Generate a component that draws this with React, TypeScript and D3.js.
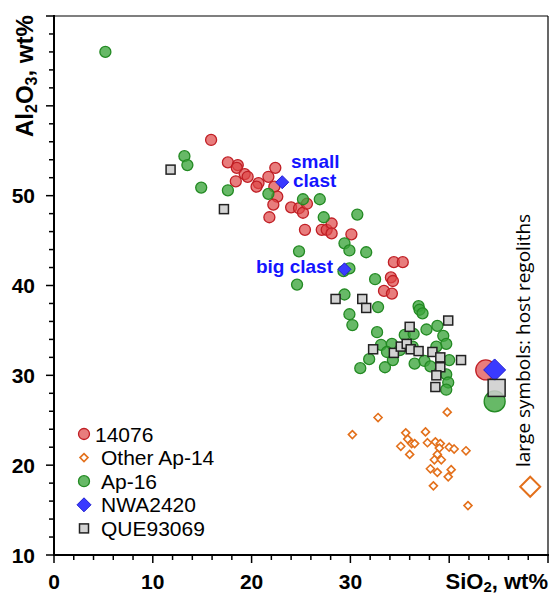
import React from "react";
import * as d3 from "d3";

// SiO2 (wt%), Al2O3 (wt%)
const s14076: [number, number][] = [
  [15.9, 56.2], [17.6, 53.7], [18.6, 53.4], [18.5, 53.1], [19.3, 52.4], [19.6, 52.1],
  [18.4, 51.6], [20.7, 51.4], [20.5, 51.0], [21.7, 52.1], [22.4, 53.1], [22.3, 51.0],
  [22.6, 49.9], [22.2, 49.0], [21.8, 47.6], [24.0, 48.7], [24.8, 48.6], [25.2, 48.1],
  [25.6, 49.1], [25.4, 46.2], [27.1, 46.2], [27.6, 46.2], [28.1, 46.9], [28.1, 45.8],
  [30.1, 45.7], [34.4, 42.6], [35.3, 42.6], [34.1, 40.9], [34.3, 40.5], [33.4, 39.4],
  [34.2, 39.1],
];

const otherAp14: [number, number][] = [
  [32.8, 25.3], [30.2, 23.4], [39.8, 25.9], [35.6, 23.6], [35.8, 22.9], [35.1, 22.1],
  [36.2, 22.4], [36.5, 22.4], [36.0, 21.2], [37.6, 23.7], [37.8, 22.5], [38.6, 22.6],
  [39.1, 22.4], [39.0, 21.9], [40.0, 22.0], [40.5, 21.8], [41.7, 21.6], [38.8, 21.2],
  [38.5, 20.6], [39.2, 20.6], [38.1, 19.6], [38.8, 19.2], [40.2, 19.5], [39.9, 18.7],
  [38.4, 17.7], [41.9, 15.5],
];

const ap16: [number, number][] = [
  [5.2, 66.0], [13.2, 54.4], [13.5, 53.4], [14.9, 50.9], [17.6, 50.6], [21.7, 50.2],
  [24.8, 43.8], [25.2, 49.6], [26.9, 49.6], [27.3, 47.6], [30.7, 47.9], [29.4, 44.7],
  [29.9, 43.9], [31.6, 43.7], [29.3, 41.6], [29.9, 41.9], [24.6, 40.1], [32.5, 40.7],
  [29.4, 39.0], [32.8, 37.6], [29.9, 36.8], [30.2, 35.6], [36.9, 37.7], [37.0, 37.3],
  [37.3, 36.9], [32.7, 34.8], [33.1, 33.4], [34.2, 33.5], [35.5, 34.5], [36.4, 34.6],
  [37.7, 35.1], [38.8, 35.5], [39.4, 34.4], [39.7, 33.5], [38.7, 33.2], [31.9, 31.8],
  [31.0, 30.8], [33.5, 30.9], [34.3, 31.7], [33.7, 32.6], [36.5, 31.3], [37.5, 31.6],
  [38.1, 31.0], [40.0, 31.7], [39.7, 30.1], [39.9, 29.2], [39.7, 28.4], [36.3, 33.2],
  [35.0, 32.8],
];

const nwa2420: [number, number][] = [[23.1, 51.5], [29.4, 41.8]];

const que93069: [number, number][] = [
  [11.8, 52.9], [17.2, 48.5], [28.5, 38.5], [31.2, 38.5], [31.6, 37.5], [36.0, 35.4],
  [39.9, 36.1], [32.3, 32.9], [34.4, 32.5], [35.1, 33.2], [35.7, 33.5], [36.1, 32.9],
  [36.9, 32.7], [38.3, 32.6], [39.1, 32.0], [39.1, 30.9], [41.2, 31.7], [38.7, 30.0],
  [38.6, 28.7],
];

// host regoliths (large symbols)
const host14076: [number, number] = [43.7, 30.6];
const hostAp14: [number, number] = [48.2, 17.6];
const hostAp16: [number, number] = [44.6, 27.1];
const hostNWA: [number, number] = [44.6, 30.6];
const hostQUE: [number, number] = [44.8, 28.6];

const xLabels = [0, 10, 20, 30];
const yLabels = [10, 20, 30, 40, 50];
const legendNames = ["14076", "Other Ap-14", "Ap-16", "NWA2420", "QUE93069"];

const RED_F = "rgba(222,70,70,0.7)", RED_S = "#c01f25";
const GRN_F = "rgba(60,165,60,0.78)", GRN_S = "#238a23";
const ORG = "#e3701b";
const BLU_F = "#3a3aff", BLU_S = "#2020d0";
const GRY_F = "#d3d3d3", GRY_S = "#222";

const diamond = (cx: number, cy: number, r: number) =>
  `M${cx},${cy - r}L${cx + r},${cy}L${cx},${cy + r}L${cx - r},${cy}Z`;

export default function App() {
  const x = d3.scaleLinear().domain([0, 50]).range([54, 548]);
  const y = d3.scaleLinear().domain([10, 70]).range([555, 16]);
  const xt = d3.range(0, 51, 2);
  const yt = d3.range(10, 71, 2);
  const font = "Liberation Sans, Arial, sans-serif";

  const circ = (d: [number, number], r: number, k: string) => (
    <circle key={k} cx={x(d[0])} cy={y(d[1])} r={r} />
  );

  const legY = (i: number) => 434 + i * 23.6;

  return (
    <svg width={558} height={595} style={{ position: "absolute", left: 0, top: 0 }} fontFamily={font}>
      <rect x={0} y={0} width={558} height={595} fill="#fff" />
      {/* frame */}
      <line x1={54} y1={16} x2={548} y2={16} stroke="#000" strokeWidth={1.2} />
      <line x1={548} y1={16} x2={548} y2={555} stroke="#000" strokeWidth={1.2} />
      <line x1={54} y1={555} x2={549} y2={555} stroke="#000" strokeWidth={2} />
      <line x1={54} y1={15} x2={54} y2={556} stroke="#000" strokeWidth={2} />
      {xt.map((t) => (
        <line key={"xt" + t} x1={x(t)} x2={x(t)} y1={555} y2={555 + (t % 10 === 0 ? 8 : 5)} stroke="#000" strokeWidth={1.5} />
      ))}
      {yt.map((t) => (
        <line key={"yt" + t} y1={y(t)} y2={y(t)} x1={54} x2={54 - (t % 10 === 0 ? 8 : 5)} stroke="#000" strokeWidth={1.5} />
      ))}
      {xLabels.map((t) => (
        <text key={"xl" + t} x={x(t)} y={589} textAnchor="middle" fontSize={21} fontWeight="bold">{t}</text>
      ))}
      {yLabels.map((t) => (
        <text key={"yl" + t} x={35} y={y(t) + 7.5} textAnchor="end" fontSize={21} fontWeight="bold">{t}</text>
      ))}
      <text x={548} y={589} textAnchor="end" fontSize={22} fontWeight="bold">
        SiO<tspan fontSize={15} dy={3}>2</tspan><tspan dy={-3}>, wt%</tspan>
      </text>
      <text transform="translate(33,137) rotate(-90)" fontSize={24} fontWeight="bold">
        Al<tspan fontSize={16} dy={4}>2</tspan><tspan dy={-4}>O</tspan><tspan fontSize={16} dy={4}>3</tspan><tspan dy={-4}>, wt%</tspan>
      </text>

      {/* data */}
      <g fill={RED_F} stroke={RED_S} strokeWidth={1.3}>
        {s14076.map((d, i) => circ(d, 5.5, "r" + i))}
      </g>
      <g fill="#fff" stroke={ORG} strokeWidth={1.6}>
        {otherAp14.map((d, i) => <path key={"o" + i} d={diamond(x(d[0]), y(d[1]), 4)} />)}
      </g>
      <g fill={GRN_F} stroke={GRN_S} strokeWidth={1.3}>
        {ap16.map((d, i) => circ(d, 5.5, "g" + i))}
      </g>
      <g fill={BLU_F} stroke={BLU_S} strokeWidth={1}>
        {nwa2420.map((d, i) => <path key={"b" + i} d={diamond(x(d[0]), y(d[1]), 6.5)} />)}
      </g>
      <g fill={GRY_F} stroke={GRY_S} strokeWidth={1.5}>
        {que93069.map((d, i) => <rect key={"q" + i} x={x(d[0]) - 4.5} y={y(d[1]) - 4.5} width={9} height={9} />)}
      </g>

      {/* hosts */}
      <circle cx={x(host14076[0])} cy={y(host14076[1])} r={10} fill={RED_F} stroke={RED_S} strokeWidth={1.3} />
      <path d={diamond(x(hostAp14[0]), y(hostAp14[1]), 10)} fill="#fff" stroke={ORG} strokeWidth={2} />
      <circle cx={x(hostAp16[0])} cy={y(hostAp16[1])} r={10.5} fill={GRN_F} stroke={GRN_S} strokeWidth={1.3} />
      <path d={diamond(x(hostNWA[0]), y(hostNWA[1]), 11)} fill={BLU_F} stroke={BLU_S} strokeWidth={1} />
      <rect x={x(hostQUE[0]) - 8.5} y={y(hostQUE[1]) - 8.5} width={17} height={17} fill="rgba(205,205,205,0.85)" stroke={GRY_S} strokeWidth={1.5} />

      {/* annotations */}
      <g fill="#1414ff" fontSize={19} fontWeight="bold">
        <text x={291} y={168}>small</text>
        <text x={293} y={187}>clast</text>
        <text x={333} y={273} textAnchor="end">big clast</text>
      </g>
      <text transform="translate(530,467) rotate(-90)" fontSize={19} fontFamily="Open Sans, sans-serif">
        large symbols: host regoliths
      </text>

      {/* legend */}
      <circle cx={84} cy={legY(0)} r={5.5} fill={RED_F} stroke={RED_S} strokeWidth={1.3} />
      <path d={diamond(84, legY(1), 4)} fill="#fff" stroke={ORG} strokeWidth={1.6} />
      <circle cx={84} cy={legY(2)} r={5.5} fill={GRN_F} stroke={GRN_S} strokeWidth={1.3} />
      <path d={diamond(84, legY(3), 7)} fill={BLU_F} stroke={BLU_S} strokeWidth={1} />
      <rect x={79.5} y={legY(4) - 4.5} width={9} height={9} fill={GRY_F} stroke={GRY_S} strokeWidth={1.5} />
      {legendNames.map((n, i) => (
        <text key={n} x={i === 0 ? 95 : 101} y={legY(i) + 7.5} fontSize={21}>{n}</text>
      ))}
    </svg>
  );
}
